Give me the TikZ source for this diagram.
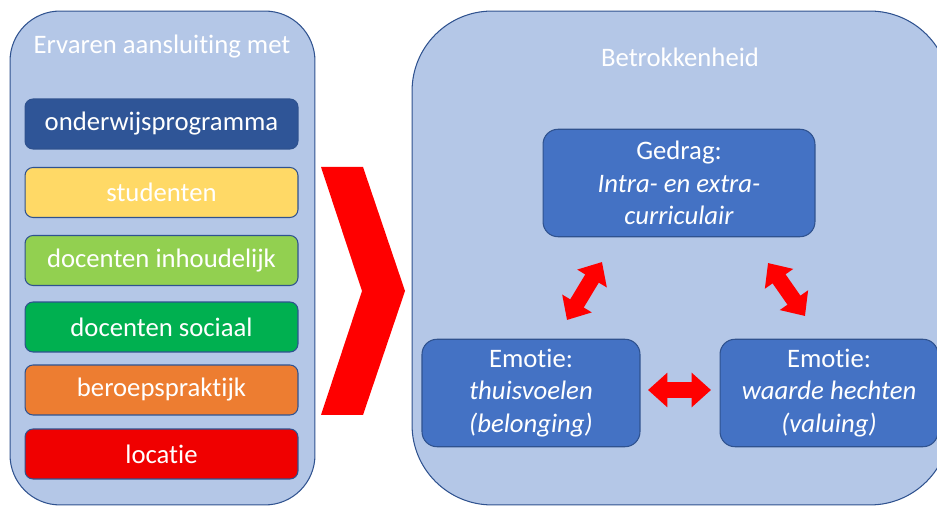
\documentclass[tikz,border=0pt]{standalone}
\usepackage{fontspec}
\setmainfont[Ligatures=NoCommon]{Carlito}
\usetikzlibrary{arrows.meta}
\definecolor{panelblue}{HTML}{B4C7E7}
\definecolor{edgeblue}{HTML}{2F528F}
\definecolor{progblue}{HTML}{2F5597}
\definecolor{studyellow}{HTML}{FFD966}
\definecolor{inhgreen}{HTML}{92D050}
\definecolor{socgreen}{HTML}{00B050}
\definecolor{praktorange}{HTML}{ED7D31}
\definecolor{locred}{HTML}{F00000}
\definecolor{innerblue}{HTML}{4472C4}
\begin{document}
\begin{tikzpicture}
  [x=0.02cm,y=-0.02cm,every node/.style={draw=edgeblue,line width=0.6pt,text=white,align=center,font=\fontsize{15.2}{18.4}\selectfont}]
  \tikzstyle{panel} = [fill=panelblue,minimum height=9.88cm]
  \tikzstyle{item} = [minimum width=5.46cm,minimum height=1cm,rounded corners=0.16cm]
  \tikzstyle{block} = [fill=innerblue,minimum height=2.15cm,rounded corners=0.3cm]
  \tikzstyle{title} = [draw=none]
  \tikzstyle{link} = [red,line width=9pt,{Triangle[length=11pt,width=19pt]}-{Triangle[length=11pt,width=19pt]}]
  \useasboundingbox (0,0) rectangle (937,506);
  \clip (0,0) rectangle (937,506);
  % panels
  \node[panel,rounded corners=1cm,minimum width=6.1cm] (aansl) at (162.5,258) {};
  \node[panel,rounded corners=1.6cm,minimum width=10.76cm] (betr) at (681,258) {};
  \node[title] (aansltitle) at (162,47) {Ervaren aansluiting met};
  \node[title] (betrtitle) at (680,57) {Betrokkenheid};
  % left column
  \foreach \name/\y/\col/\txt in {prog/124/progblue/onderwijsprogramma,stud/192.5/studyellow/studenten,
    inh/260.5/inhgreen/docenten inhoudelijk,soc/327/socgreen/docenten sociaal,
    prakt/390/praktorange/beroepspraktijk,loc/454/locred/locatie}
   \node[item,fill=\col] (\name) at (161.5,\y) {\txt};
  % chevron
  \fill[red] (321,167) -- (363,167) -- (405,291) -- (363,415) -- (321,415) -- (362,291) -- cycle;
  % right panel
  \node[block,minimum width=5.44cm] (gedrag) at (679,183) {Gedrag:\\\textit{Intra- en extra-}\\\textit{curriculair}};
  \node[block,minimum width=4.36cm] (thuis) at (531,393) {Emotie:\\\textit{thuisvoelen}\\\textit{(belonging)}};
  \node[block,minimum width=4.36cm] (waarde) at (829,393) {Emotie:\\\textit{waarde hechten}\\\textit{(valuing)}};
  \coordinate (g1) at (602,262);
  \coordinate (t1) at (567,320);
  \coordinate (g2) at (768,263);
  \coordinate (w2) at (805,316);
  \coordinate (t3) at (648,390);
  \coordinate (w3) at (711,390);
  \foreach \source/\dest in {g1/t1,g2/w2,t3/w3}
   \draw[link] (\source) -- (\dest);
\end{tikzpicture}
\end{document}
